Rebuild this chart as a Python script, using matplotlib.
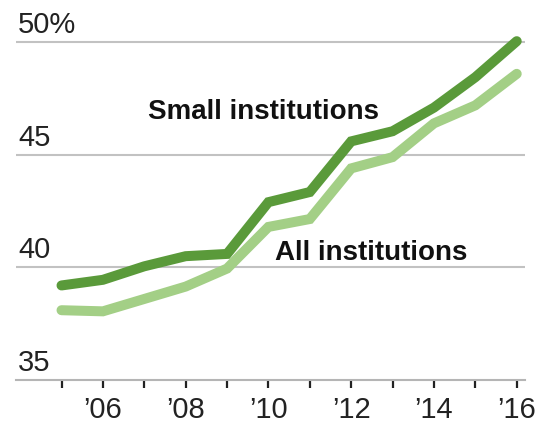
import matplotlib.pyplot as plt
from matplotlib import transforms

plt.rcParams['font.family'] = ['Liberation Sans', 'DejaVu Sans']

# Share of deposits, percent
years = list(range(2005, 2017))
small_inst = [39.2, 39.45, 40.05, 40.5, 40.6, 42.9, 43.35, 45.6, 46.05, 47.1, 48.45, 50.05]
all_inst = [38.1, 38.05, 38.6, 39.15, 39.95, 41.8, 42.15, 44.4, 44.9, 46.4, 47.2, 48.6]

y_ticks = [35, 40, 45, 50]
y_labels = ['35', '40', '45', '50%']
x_labels = ['\u2019' + str(y)[2:] if y % 2 == 0 else '' for y in years]

dark_green = '#5a9a3a'
light_green = '#a3cf86'
grid_gray = '#c2c2c2'

fig = plt.figure(figsize=(5.49, 4.28), dpi=100)
ax = fig.add_axes([16 / 549, 48 / 428, 509 / 549, 1 - 48 / 428 - 19.8 / 428])
ax.set_xlim(2003.9, 2016.2)
ax.set_ylim(35, 51)

for v in y_ticks[1:]:
    ax.axhline(v, color=grid_gray, lw=1.5, zorder=1)

ax.plot(years, all_inst, color=light_green, lw=7.2,
        solid_capstyle='round', solid_joinstyle='miter', zorder=2)
ax.plot(years, small_inst, color=dark_green, lw=7.2,
        solid_capstyle='round', solid_joinstyle='miter', zorder=3)

# y labels sit above their gridlines at the left edge
trans = transforms.blended_transform_factory(ax.transAxes, ax.transData)
for v, lab in zip(y_ticks, y_labels):
    ax.annotate(lab, xy=(0, v), xycoords=trans, xytext=(1.5, 6.5),
                textcoords='offset points', ha='left', va='baseline',
                fontsize=21, color='#222222')

ax.text(2007.1, 46.59, 'Small institutions', fontsize=20, fontweight='bold',
        ha='left', va='baseline', color='#111111')
ax.text(2010.15, 40.34, 'All institutions', fontsize=20, fontweight='bold',
        ha='left', va='baseline', color='#111111')

for side in ['top', 'right', 'left']:
    ax.spines[side].set_visible(False)
ax.spines['bottom'].set_color('#b5b5b5')
ax.spines['bottom'].set_linewidth(1.5)

ax.set_yticks([])
ax.set_xticks(years)
ax.set_xticklabels(x_labels)
ax.tick_params(axis='x', length=6, width=1.6, color='#222222',
               labelsize=21, labelcolor='#222222', pad=5.5)

fig.savefig('out.png', dpi=100)
